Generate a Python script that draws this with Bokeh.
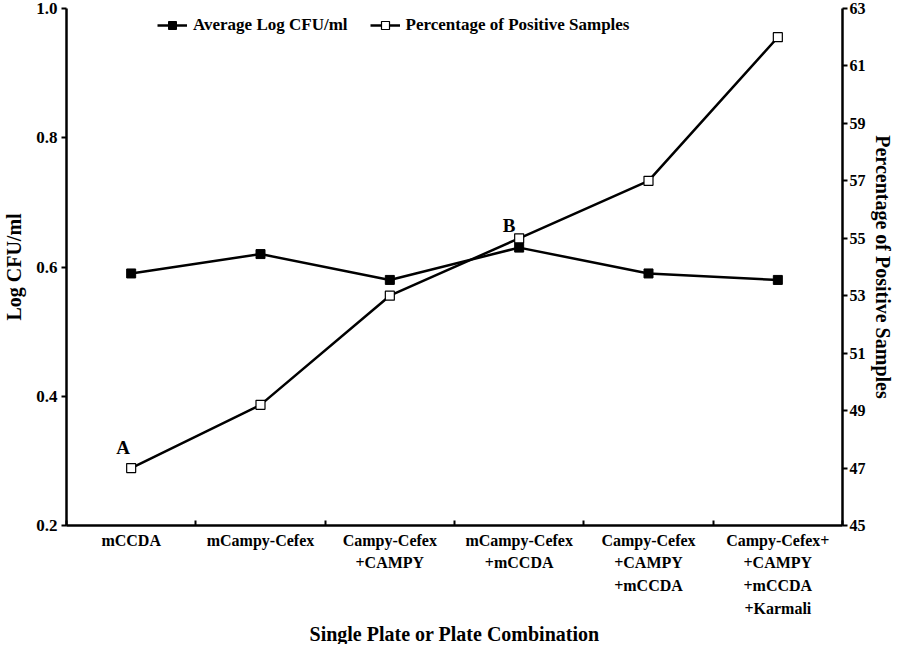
from bokeh.plotting import figure
from bokeh.models import Range1d, LinearAxis, FixedTicker, Legend, LegendItem, Label, Title
from bokeh.embed import file_html
from bokeh.resources import INLINE

categories = ["mCCDA", "mCampy-Cefex", "Campy-Cefex\n+CAMPY", "mCampy-Cefex\n+mCCDA",
              "Campy-Cefex\n+CAMPY\n+mCCDA", "Campy-Cefex+\n+CAMPY\n+mCCDA\n+Karmali"]
log_cfu = [0.59, 0.62, 0.58, 0.63, 0.59, 0.58]
pct_positive = [47.0, 49.2, 53.0, 55.0, 57.0, 62.0]
left_ticks = [0.2, 0.4, 0.6, 0.8, 1.0]
right_ticks = [45, 47, 49, 51, 53, 55, 57, 59, 61, 63]

FONT = "Liberation Serif"
xs = [i + 0.5 for i in range(len(categories))]

p = figure(width=901, height=644, output_backend="svg", toolbar_location=None,
           x_range=Range1d(0, len(categories)), y_range=Range1d(0.2, 1.0),
           min_border_left=62, min_border_right=59, min_border_top=8, min_border_bottom=119)
p.extra_y_ranges = {"pct": Range1d(45, 63)}
p.xgrid.visible = False
p.ygrid.visible = False
p.outline_line_color = None
p.background_fill_color = "white"
p.border_fill_color = "white"

def style_axis(ax, size):
    ax.major_label_text_font = FONT
    ax.major_label_text_font_style = "bold"
    ax.major_label_text_font_size = size
    ax.major_label_text_color = "black"
    ax.axis_label_text_font = FONT
    ax.axis_label_text_font_style = "bold"
    ax.axis_label_text_font_size = "20px"
    ax.axis_label_text_color = "black"
    ax.axis_line_width = 2.5
    ax.axis_line_color = "black"
    ax.major_tick_line_color = "black"
    ax.major_tick_line_width = 2

# x axis
xa = p.xaxis[0]
style_axis(xa, "16px")
xa.ticker = FixedTicker(ticks=xs, minor_ticks=list(range(len(categories) + 1)))
xa.major_label_overrides = {x: c for x, c in zip(xs, categories)}
xa.major_tick_in = 0
xa.major_tick_out = 0
xa.minor_tick_in = 5
xa.minor_tick_out = 0
xa.minor_tick_line_width = 2
xa.minor_tick_line_color = "black"
xa.major_label_text_line_height = 1.35
xa.major_label_standoff = 6

# left axis
ya = p.yaxis[0]
style_axis(ya, "17px")
ya.ticker = FixedTicker(ticks=left_ticks)
ya.major_label_overrides = {t: f"{t:.1f}" for t in left_ticks}
ya.minor_tick_line_color = None
ya.major_tick_in = 0
ya.major_tick_out = 5
ya.major_label_standoff = 4
ya.axis_label = "Log CFU/ml"
ya.axis_label_standoff = 8

# right axis
ra = LinearAxis(y_range_name="pct", ticker=FixedTicker(ticks=right_ticks))
style_axis(ra, "16px")
ra.minor_tick_line_color = None
ra.major_tick_in = 0
ra.major_tick_out = 5
ra.major_label_standoff = 2
ra.axis_label = "Percentage of Positive Samples"
ra.axis_label_standoff = 3
p.add_layout(ra, "right")

p.add_layout(Title(text="Single Plate or Plate Combination", align="center",
                   text_font=FONT, text_font_style="bold", text_font_size="20px",
                   text_color="black", standoff=0, offset=0), "below")

l1 = p.line(xs, log_cfu, line_color="black", line_width=2.5)
s1 = p.scatter(xs, log_cfu, marker="square", size=9, fill_color="black", line_color="black")
l2 = p.line(xs, pct_positive, line_color="black", line_width=2.5, y_range_name="pct")
s2 = p.scatter(xs, pct_positive, marker="square", size=9, fill_color="white",
               line_color="black", line_width=1.2, y_range_name="pct")

legend = Legend(items=[LegendItem(label="Average Log CFU/ml", renderers=[l1, s1]),
                       LegendItem(label="Percentage of Positive Samples", renderers=[l2, s2])],
                orientation="horizontal", location=(91, 490),
                label_text_font=FONT, label_text_font_style="bold", label_text_font_size="17px",
                label_text_color="black",
                border_line_color=None, background_fill_alpha=0, spacing=22,
                glyph_width=30, label_standoff=6)
p.add_layout(legend, "center")

p.add_layout(Label(x=xs[0], y=pct_positive[0], y_range_name="pct", text="A",
                   x_offset=-8, y_offset=10, text_font=FONT, text_font_style="bold",
                   text_font_size="19px", text_align="center", text_color="black"))
p.add_layout(Label(x=xs[3], y=pct_positive[3], y_range_name="pct", text="B",
                   x_offset=-10, y_offset=2, text_font=FONT, text_font_style="bold",
                   text_font_size="19px", text_align="center", text_color="black"))

open("out.html", "w").write(file_html(p, INLINE))
